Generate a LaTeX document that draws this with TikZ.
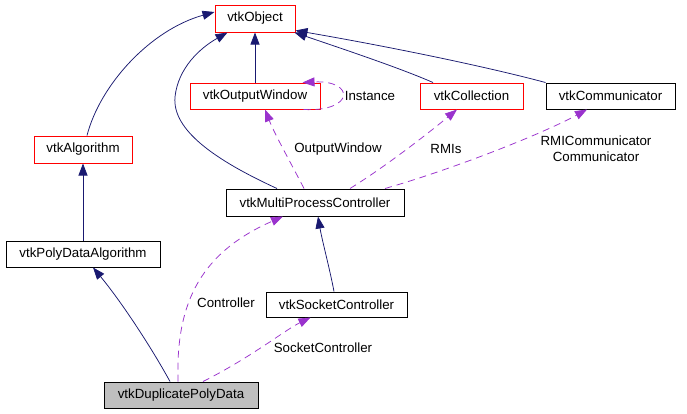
\documentclass[tikz,border=0pt]{standalone}
\usepackage{fontspec}
\setmainfont{Liberation Sans}
\usetikzlibrary{arrows.meta}
\definecolor{inh}{HTML}{191970}
\definecolor{use}{HTML}{9A32CD}
\definecolor{redb}{HTML}{FF0000}
\definecolor{grayf}{HTML}{BFBFBF}
\begin{document}
\begin{tikzpicture}[x=1pt,y=-1pt,
  font=\fontsize{13.3}{16}\selectfont,
  cls/.style={draw=black,line width=1pt,inner sep=0pt,minimum height=26pt,anchor=center},
  redcls/.style={cls,draw=redb},
  inhedge/.style={draw=inh,line width=0.75pt,-{Triangle[length=12pt,width=9pt]}},
  useedge/.style={draw=use,line width=0.75pt,dash pattern=on 7pt off 5pt,-{Triangle[length=12pt,width=9pt]}},
  lbl/.style={inner sep=0pt,anchor=center,align=center}]
\path[use as bounding box,fill=white] (0,0) rectangle (687,413);

\node[redcls,minimum width=80pt,minimum height=27pt] (obj) at (255,18.5) {vtkObject};
\node[redcls,minimum width=130pt] (ow) at (255,96) {vtkOutputWindow};
\node[redcls,minimum width=103pt] (coll) at (471.5,96) {vtkCollection};
\node[cls,minimum width=129pt] (comm) at (610.5,96) {vtkCommunicator};
\node[redcls,minimum width=98pt,minimum height=27pt] (alg) at (83,149.5) {vtkAlgorithm};
\node[cls,minimum width=154pt] (pda) at (83,254) {vtkPolyDataAlgorithm};
\node[cls,minimum width=178pt,minimum height=27pt] (mpc) at (315,202.5) {vtkMultiProcessController};
\node[cls,minimum width=141pt,minimum height=25pt] (sock) at (336.5,304.5) {vtkSocketController};
\node[cls,fill=grayf,minimum width=154pt] (dup) at (181,395) {vtkDuplicatePolyData};

% inheritance edges
\draw[inhedge] ([xshift=4pt]alg.north) .. controls (100,85) and (150,30) .. ([yshift=6.5pt]obj.west);
\draw[inhedge] ([xshift=-38pt]mpc.north) .. controls (215,160) and (172,130) .. (175,97)
   .. controls (178,68) and (200,48) .. ([xshift=13pt]obj.south west);
\draw[inhedge] (ow.north) -- (obj.south);
\draw[inhedge] ([xshift=-38.5pt]coll.north) .. controls (400,68) and (340,48) .. ([xshift=-1pt]obj.south east);
\draw[inhedge] (comm.north west) .. controls (480,65) and (380,45) .. ([yshift=2pt]obj.south east);
\draw[inhedge] (pda.north) -- (alg.south);
\draw[inhedge] ([xshift=-11pt]dup.north) .. controls (150,345) and (120,300) .. ([xshift=10pt]pda.south);
\draw[inhedge] ([xshift=-2.5pt]sock.north) .. controls (330,270) and (322,240) .. ([xshift=3pt]mpc.south);

% usage edges
\draw[useedge] ([xshift=-17pt]ow.south east) .. controls (355,112) and (355,80) .. ([xshift=-18pt]ow.north east);
\node[lbl] (linst) at (370,96) {Instance};
\draw[useedge] ([xshift=-11pt]mpc.north) .. controls (292,165) and (275,135) .. ([xshift=10pt]ow.south);
\node[lbl] (low) at (338,149) {OutputWindow};
\draw[useedge] ([xshift=35pt]mpc.north) .. controls (380,170) and (420,140) .. ([xshift=-14.5pt]coll.south);
\node[lbl] (lrmi) at (446,149) {RMIs};
\draw[useedge] ([xshift=70pt]mpc.north) .. controls (450,170) and (540,135) .. ([xshift=-23.5pt]comm.south);
\node[lbl] (lcomm) at (596,149) {RMICommunicator\\Communicator};
\draw[useedge] ([xshift=-3pt]dup.north) .. controls (176,310) and (195,255) .. ([xshift=-32pt]mpc.south);
\node[lbl] (lctrl) at (226,303) {Controller};
\draw[useedge] ([xshift=22pt]dup.north) .. controls (250,358) and (285,330) .. ([xshift=-26pt]sock.south);
\node[lbl] (lsock) at (323,348) {SocketController};
\end{tikzpicture}
\end{document}
